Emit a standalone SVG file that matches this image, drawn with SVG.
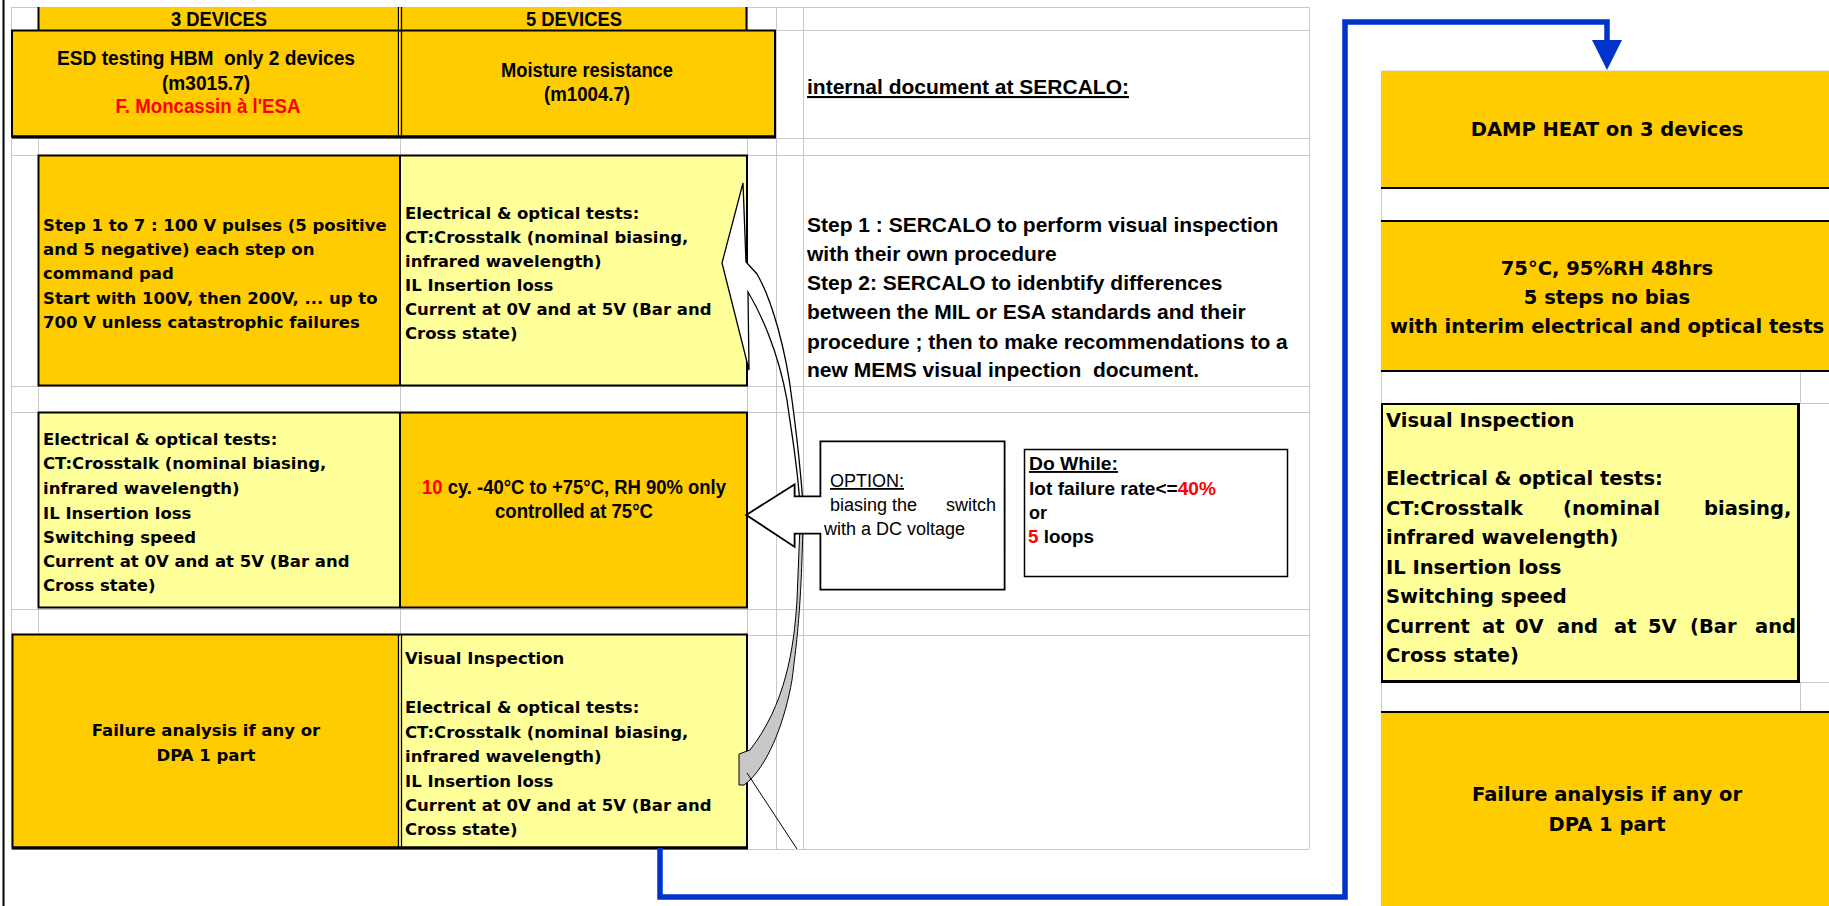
<svg xmlns="http://www.w3.org/2000/svg" width="1829" height="906" viewBox="0 0 1829 906">
  <defs>
    <style>
      .ga { font-family: "Liberation Sans Narrow", "Liberation Sans", Arial, sans-serif; font-weight: bold; font-size: 20px; fill: #000; }
      .gb { font-family: "DejaVu Sans", Verdana, sans-serif; font-weight: bold; font-size: 16.5px; fill: #000; }
      .gr { font-family: "DejaVu Sans", Verdana, sans-serif; font-weight: bold; font-size: 19.5px; fill: #000; }
      .gc { font-family: "Liberation Sans", Arial, sans-serif; font-weight: bold; font-size: 21px; fill: #000; }
      .gd { font-family: "Liberation Sans", Arial, sans-serif; font-size: 18px; fill: #000; }
      .dw { font-family: "Liberation Sans Narrow", "Liberation Sans", Arial, sans-serif; font-weight: bold; font-size: 19px; fill: #000; }
      .mid { text-anchor: middle; }
      .red { fill: #FF0000; }
      .grid line { stroke: #C8C8C8; stroke-width: 1; }
      .orange { fill: #FFCC00; }
      .yellow { fill: #FFFF99; }
      .edge { fill: none; stroke: #000; stroke-width: 2; }
    </style>
    <marker id="bluehead" markerUnits="userSpaceOnUse" markerWidth="32" markerHeight="32" viewBox="0 -16 32 32" refX="0" refY="0" orient="auto">
      <path d="M0,-15 L30,0 L0,15 Z" fill="#0033CC"/>
    </marker>
  </defs>

  <rect x="0" y="0" width="1829" height="906" fill="#FFFFFF"/>

  <!-- spreadsheet gridlines -->
  <g class="grid">
    <line x1="11" y1="7.5" x2="1309" y2="7.5"/>
    <line x1="11" y1="30.5" x2="1309" y2="30.5"/>
    <line x1="11" y1="138.5" x2="1309" y2="138.5"/>
    <line x1="11" y1="155.5" x2="1309" y2="155.5"/>
    <line x1="11" y1="386.5" x2="1309" y2="386.5"/>
    <line x1="11" y1="412.5" x2="1309" y2="412.5"/>
    <line x1="11" y1="609.5" x2="1309" y2="609.5"/>
    <line x1="11" y1="635.5" x2="1309" y2="635.5"/>
    <line x1="11" y1="849.5" x2="1309" y2="849.5"/>
    <line x1="11.5" y1="7" x2="11.5" y2="849"/>
    <line x1="38.5" y1="7" x2="38.5" y2="849"/>
    <line x1="400.5" y1="7" x2="400.5" y2="849"/>
    <line x1="747.5" y1="7" x2="747.5" y2="849"/>
    <line x1="776.5" y1="7" x2="776.5" y2="849"/>
    <line x1="803.5" y1="7" x2="803.5" y2="849"/>
    <line x1="1309.5" y1="7" x2="1309.5" y2="849"/>
    <!-- right sheet -->
    <line x1="1381.5" y1="71" x2="1381.5" y2="906"/>
    <line x1="1800.5" y1="371" x2="1800.5" y2="403"/>
    <line x1="1800.5" y1="682" x2="1800.5" y2="712"/>
    <line x1="1800" y1="403.5" x2="1829" y2="403.5"/>
    <line x1="1800" y1="682.5" x2="1829" y2="682.5"/>
  </g>

  <!-- page frame on the left -->
  <rect x="2.5" y="0" width="2" height="906" fill="#000"/>

  <!-- header: 3 DEVICES -->
  <g id="header-3-devices">
    <rect class="orange" x="38" y="7" width="361" height="23"/>
    <line x1="38.5" y1="7" x2="38.5" y2="30" stroke="#000" stroke-width="2"/>
    <text class="ga mid" x="219" y="26" textLength="96" lengthAdjust="spacingAndGlyphs">3 DEVICES</text>
  </g>

  <!-- header: 5 DEVICES -->
  <g id="header-5-devices">
    <rect class="orange" x="400" y="7" width="347" height="23"/>
    <line x1="746.5" y1="7" x2="746.5" y2="30" stroke="#000" stroke-width="2"/>
    <text class="ga mid" x="574" y="26" textLength="96" lengthAdjust="spacingAndGlyphs">5 DEVICES</text>
  </g>

  <!-- ESD row -->
  <g id="esd-testing">
    <rect class="orange" x="12" y="30" width="387" height="107"/>
    <text class="ga mid" x="206" y="65" textLength="298" lengthAdjust="spacingAndGlyphs">ESD testing HBM&#160; only 2 devices</text>
    <text class="ga mid" x="206" y="90" textLength="88" lengthAdjust="spacingAndGlyphs">(m3015.7)</text>
    <text class="ga mid red" x="208" y="113" textLength="185" lengthAdjust="spacingAndGlyphs">F. Moncassin à l'ESA</text>
  </g>
  <g id="moisture-resistance">
    <rect class="orange" x="400" y="30" width="375" height="107"/>
    <text class="ga mid" x="587" y="77" textLength="172" lengthAdjust="spacingAndGlyphs">Moisture resistance</text>
    <text class="ga mid" x="587" y="101" textLength="86" lengthAdjust="spacingAndGlyphs">(m1004.7)</text>
  </g>
  <g id="row2-borders">
    <rect class="edge" x="12" y="30.5" width="763" height="106"/>
    <line x1="12" y1="137" x2="776" y2="137" stroke="#000" stroke-width="3"/>
    <line x1="398.5" y1="7" x2="398.5" y2="137" stroke="#000" stroke-width="1.3"/>
    <line x1="401.5" y1="7" x2="401.5" y2="137" stroke="#000" stroke-width="1.3"/>
  </g>

  <!-- ESD steps row -->
  <g id="esd-steps">
    <rect class="orange" x="38" y="155" width="362" height="231"/>
    <text class="gb" x="43" y="231">Step 1 to 7 : 100 V pulses (5 positive</text>
    <text class="gb" x="43" y="255">and 5 negative) each step on</text>
    <text class="gb" x="43" y="279">command pad</text>
    <text class="gb" x="43" y="304">Start with 100V, then 200V, ... up to</text>
    <text class="gb" x="43" y="328">700 V unless catastrophic failures</text>
  </g>
  <g id="tests-after-esd">
    <rect class="yellow" x="400" y="155" width="347" height="231"/>
    <text class="gb" x="405" y="219">Electrical &amp; optical tests:</text>
    <text class="gb" x="405" y="243">CT:Crosstalk (nominal biasing,</text>
    <text class="gb" x="405" y="267">infrared wavelength)</text>
    <text class="gb" x="405" y="291">IL Insertion loss</text>
    <text class="gb" x="405" y="315">Current at 0V and at 5V (Bar and</text>
    <text class="gb" x="405" y="339">Cross state)</text>
  </g>
  <g id="row3-borders">
    <rect class="edge" x="38.5" y="155.5" width="708.5" height="230"/>
    <line x1="400" y1="155" x2="400" y2="386" stroke="#000" stroke-width="2"/>
  </g>

  <!-- moisture cycling row -->
  <g id="tests-before-moisture">
    <rect class="yellow" x="38" y="412" width="362" height="196"/>
    <text class="gb" x="43" y="445">Electrical &amp; optical tests:</text>
    <text class="gb" x="43" y="469">CT:Crosstalk (nominal biasing,</text>
    <text class="gb" x="43" y="494">infrared wavelength)</text>
    <text class="gb" x="43" y="519">IL Insertion loss</text>
    <text class="gb" x="43" y="543">Switching speed</text>
    <text class="gb" x="43" y="567">Current at 0V and at 5V (Bar and</text>
    <text class="gb" x="43" y="591">Cross state)</text>
  </g>
  <g id="moisture-cycles">
    <rect class="orange" x="400" y="412" width="347" height="196"/>
    <text class="ga mid" x="574" y="494" textLength="304" lengthAdjust="spacingAndGlyphs"><tspan class="red">10</tspan> cy. -40°C to +75°C, RH 90% only</text>
    <text class="ga mid" x="574" y="518" textLength="158" lengthAdjust="spacingAndGlyphs">controlled at 75°C</text>
  </g>
  <g id="row4-borders">
    <rect class="edge" x="38.5" y="412.5" width="708.5" height="195"/>
    <line x1="400" y1="412" x2="400" y2="608" stroke="#000" stroke-width="2"/>
  </g>

  <!-- final row -->
  <g id="failure-analysis-left">
    <rect class="orange" x="12" y="634" width="387" height="214"/>
    <text class="gb mid" x="206" y="736">Failure analysis if any or</text>
    <text class="gb mid" x="206" y="761">DPA 1 part</text>
  </g>
  <g id="final-inspection">
    <rect class="yellow" x="400" y="634" width="347" height="214"/>
    <text class="gb" x="405" y="664">Visual Inspection</text>
    <text class="gb" x="405" y="713">Electrical &amp; optical tests:</text>
    <text class="gb" x="405" y="738">CT:Crosstalk (nominal biasing,</text>
    <text class="gb" x="405" y="762">infrared wavelength)</text>
    <text class="gb" x="405" y="787">IL Insertion loss</text>
    <text class="gb" x="405" y="811">Current at 0V and at 5V (Bar and</text>
    <text class="gb" x="405" y="835">Cross state)</text>
  </g>
  <g id="row5-borders">
    <rect class="edge" x="12.5" y="634.5" width="734.5" height="213"/>
    <line x1="12" y1="848" x2="748" y2="848" stroke="#000" stroke-width="3"/>
    <line x1="398.5" y1="634" x2="398.5" y2="848" stroke="#000" stroke-width="1.3"/>
    <line x1="401.5" y1="634" x2="401.5" y2="848" stroke="#000" stroke-width="1.3"/>
  </g>

  <!-- SERCALO notes -->
  <g id="sercalo-note">
    <text class="gc" x="807" y="94" text-decoration="underline">internal document at SERCALO:</text>
    <text class="gc" x="807" y="232">Step 1 : SERCALO to perform visual inspection</text>
    <text class="gc" x="807" y="261">with their own procedure</text>
    <text class="gc" x="807" y="290">Step 2: SERCALO to idenbtify differences</text>
    <text class="gc" x="807" y="319">between the MIL or ESA standards and their</text>
    <text class="gc" x="807" y="349">procedure ; then to make recommendations to a</text>
    <text class="gc" x="807" y="377">new MEMS visual inpection&#160; document.</text>
  </g>

  <!-- loop connectors -->
  <g id="connectors">
    <!-- curved white arrow back up to the ESD tests -->
    <path d="M743,183 L722,263 L749,370 L748,292 C760,312 778,350 787,400 C791,430 797,460 800,505 L803,505 C800,460 796,430 792,400 C786,350 772,300 757,274 L746,262 Z" fill="#FFFFFF" stroke="#000" stroke-width="1.3" stroke-linejoin="miter"/>
    <!-- curved grey arrow down to the final inspection -->
    <path d="M800,525 L797,600 C794,650 785,705 750,750 L739,754 L739,785 L744,785 L750,780 C770,760 785,720 792,680 C797,640 801,610 803,525 Z" fill="#C8C8C8" stroke="#000" stroke-width="1"/>
    <line x1="747" y1="773" x2="797" y2="849" stroke="#000" stroke-width="1"/>
    <!-- blue link to the damp heat sequence -->
    <path d="M660,848 V897 H1345 V22 H1607 V40" fill="none" stroke="#0033CC" stroke-width="5.5" stroke-linejoin="miter" marker-end="url(#bluehead)"/>
  </g>

  <!-- option callout (double outline) -->
  <g id="option-callout">
    <path d="M823,444 H1002 V587 H823 V531 H792 V542 L751,515 L792,489 V499 H823 Z" fill="#FFFFFF" stroke="#000" stroke-width="7" stroke-linejoin="miter"/>
    <path d="M823,444 H1002 V587 H823 V531 H792 V542 L751,515 L792,489 V499 H823 Z" fill="#FFFFFF" stroke="#FFFFFF" stroke-width="3.4" stroke-linejoin="miter"/>
    <text class="gd" x="830" y="487" text-decoration="underline">OPTION:</text>
    <text class="gd" x="830" y="511">biasing the</text>
    <text class="gd" x="996" y="511" text-anchor="end">switch</text>
    <text class="gd" x="824" y="535">with a DC voltage</text>
  </g>

  <!-- loop condition -->
  <g id="do-while">
    <rect x="1024.5" y="449.5" width="263" height="127" fill="#FFFFFF" stroke="#000" stroke-width="1.5"/>
    <text class="dw" x="1029" y="470" text-decoration="underline" textLength="89" lengthAdjust="spacingAndGlyphs">Do While:</text>
    <text class="dw" x="1029" y="495" textLength="187" lengthAdjust="spacingAndGlyphs">lot failure rate&lt;=<tspan class="red">40%</tspan></text>
    <text class="dw" x="1029" y="519" textLength="18" lengthAdjust="spacingAndGlyphs">or</text>
    <text class="dw" x="1028" y="543" textLength="66" lengthAdjust="spacingAndGlyphs"><tspan class="red">5</tspan> loops</text>
  </g>

  <!-- damp heat sequence -->
  <g id="damp-heat">
    <rect class="orange" x="1381" y="71" width="448" height="117"/>
    <line x1="1381" y1="71" x2="1829" y2="71" stroke="#C8C8C8" stroke-width="1"/>
    <line x1="1381" y1="188" x2="1829" y2="188" stroke="#000" stroke-width="2"/>
    <text class="gr mid" x="1607" y="136">DAMP HEAT on 3 devices</text>
  </g>
  <g id="damp-heat-steps">
    <rect class="orange" x="1381" y="221" width="448" height="150"/>
    <line x1="1381" y1="221" x2="1829" y2="221" stroke="#000" stroke-width="2"/>
    <line x1="1381" y1="371" x2="1829" y2="371" stroke="#000" stroke-width="2"/>
    <text class="gr mid" x="1607" y="275">75°C, 95%RH 48hrs</text>
    <text class="gr mid" x="1607" y="304">5 steps no bias</text>
    <text class="gr mid" x="1607" y="333">with interim electrical and optical tests</text>
  </g>
  <g id="damp-heat-inspection">
    <rect class="yellow" x="1381" y="403" width="418" height="279"/>
    <rect class="edge" x="1382" y="404" width="416" height="277"/>
    <line x1="1798.5" y1="403" x2="1798.5" y2="683" stroke="#000" stroke-width="3"/>
    <line x1="1381" y1="681.5" x2="1800" y2="681.5" stroke="#000" stroke-width="3"/>
    <text class="gr" x="1386" y="427">Visual Inspection</text>
    <text class="gr" x="1386" y="485">Electrical &amp; optical tests:</text>
    <text class="gr" y="515"><tspan x="1386">CT:Crosstalk</tspan><tspan x="1563">(nominal</tspan><tspan x="1704">biasing,</tspan></text>
    <text class="gr" x="1386" y="544">infrared wavelength)</text>
    <text class="gr" x="1386" y="574">IL Insertion loss</text>
    <text class="gr" x="1386" y="603">Switching speed</text>
    <text class="gr" y="633"><tspan x="1386">Current</tspan><tspan x="1482">at</tspan><tspan x="1515">0V</tspan><tspan x="1557">and</tspan><tspan x="1614">at</tspan><tspan x="1648">5V</tspan><tspan x="1690">(Bar</tspan><tspan x="1755">and</tspan></text>
    <text class="gr" x="1386" y="662">Cross state)</text>
  </g>
  <g id="damp-heat-failure-analysis">
    <rect class="orange" x="1381" y="712" width="448" height="194"/>
    <line x1="1381" y1="712" x2="1829" y2="712" stroke="#000" stroke-width="2"/>
    <text class="gr mid" x="1607" y="801">Failure analysis if any or</text>
    <text class="gr mid" x="1607" y="831">DPA 1 part</text>
  </g>
</svg>
